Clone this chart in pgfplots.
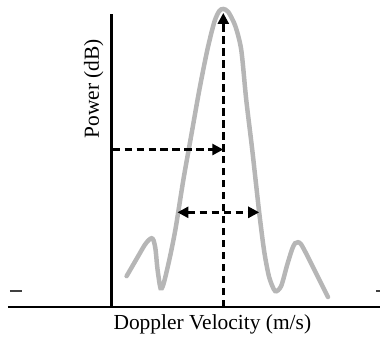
\documentclass[border=0pt]{standalone}
\usepackage{pgfplots}
\pgfplotsset{compat=1.18}
\usepackage{fontspec}
\setmainfont{Liberation Serif}
\usetikzlibrary{arrows.meta}
\definecolor{curvegray}{RGB}{182,182,182}
\begin{document}
\begin{tikzpicture}
\begin{axis}[
  scale only axis, width=381pt, height=340pt,
  xmin=0, xmax=381, ymin=0, ymax=340,
  hide axis, clip=false,
]
% invisible frame for the bounding box
\addplot[draw=none] coordinates {(0,0) (381,340)};
% spectrum curve (x in px, y = 340 - py)
\addplot[curvegray, line width=4.5pt, smooth, tension=0.45, line cap=round] coordinates {
(127,63) (138,82) (145,94) (149,99) (152,101) (154,99) (156,90) (158,70) (161,51) (164,55) (170,80)
(176,110) (184,160) (192,205) (200,250) (208,290) (215,318) (220,329) (224,331)
(229,328) (236,314) (242,290) (247,240) (253,190) (260,127) (265,88) (270,62)
(276,48) (282,53) (288,74) (293,90) (296,96) (299,97) (302,95) (308,84) (318,64) (329,42)
};
% axis lines
\addplot[black, line width=2.4pt] coordinates {(8,32) (381,32)};
\addplot[black, line width=2.4pt] coordinates {(112,32) (112,326)};
% small dashes
\addplot[black!75, line width=1.8pt] coordinates {(10,48) (22,48)};
\addplot[black!75, line width=1.8pt] coordinates {(377,48) (381,48)};
% dashed arrows
\addplot[black, line width=2.6pt, dash pattern=on 7.5pt off 4.5pt, -{Triangle[length=11pt,width=11pt]}] coordinates {(224,32) (224,327)};
\addplot[black, line width=2.6pt, dash pattern=on 7.5pt off 4.5pt, -{Triangle[length=11pt,width=11pt]}] coordinates {(113,190) (224,190)};
\addplot[black, line width=2.6pt, dash pattern=on 7.5pt off 4.5pt, {Triangle[length=11pt,width=11pt]}-{Triangle[length=11pt,width=11pt]}] coordinates {(178,127) (260,127)};
% labels
\node[rotate=90, font=\fontsize{21.5}{24}\selectfont] at (axis cs:94,251) {Power (dB)};
\node[font=\fontsize{21.5}{24}\selectfont] at (axis cs:213,15) {Doppler Velocity (m/s)};
\end{axis}
\end{tikzpicture}
\end{document}
